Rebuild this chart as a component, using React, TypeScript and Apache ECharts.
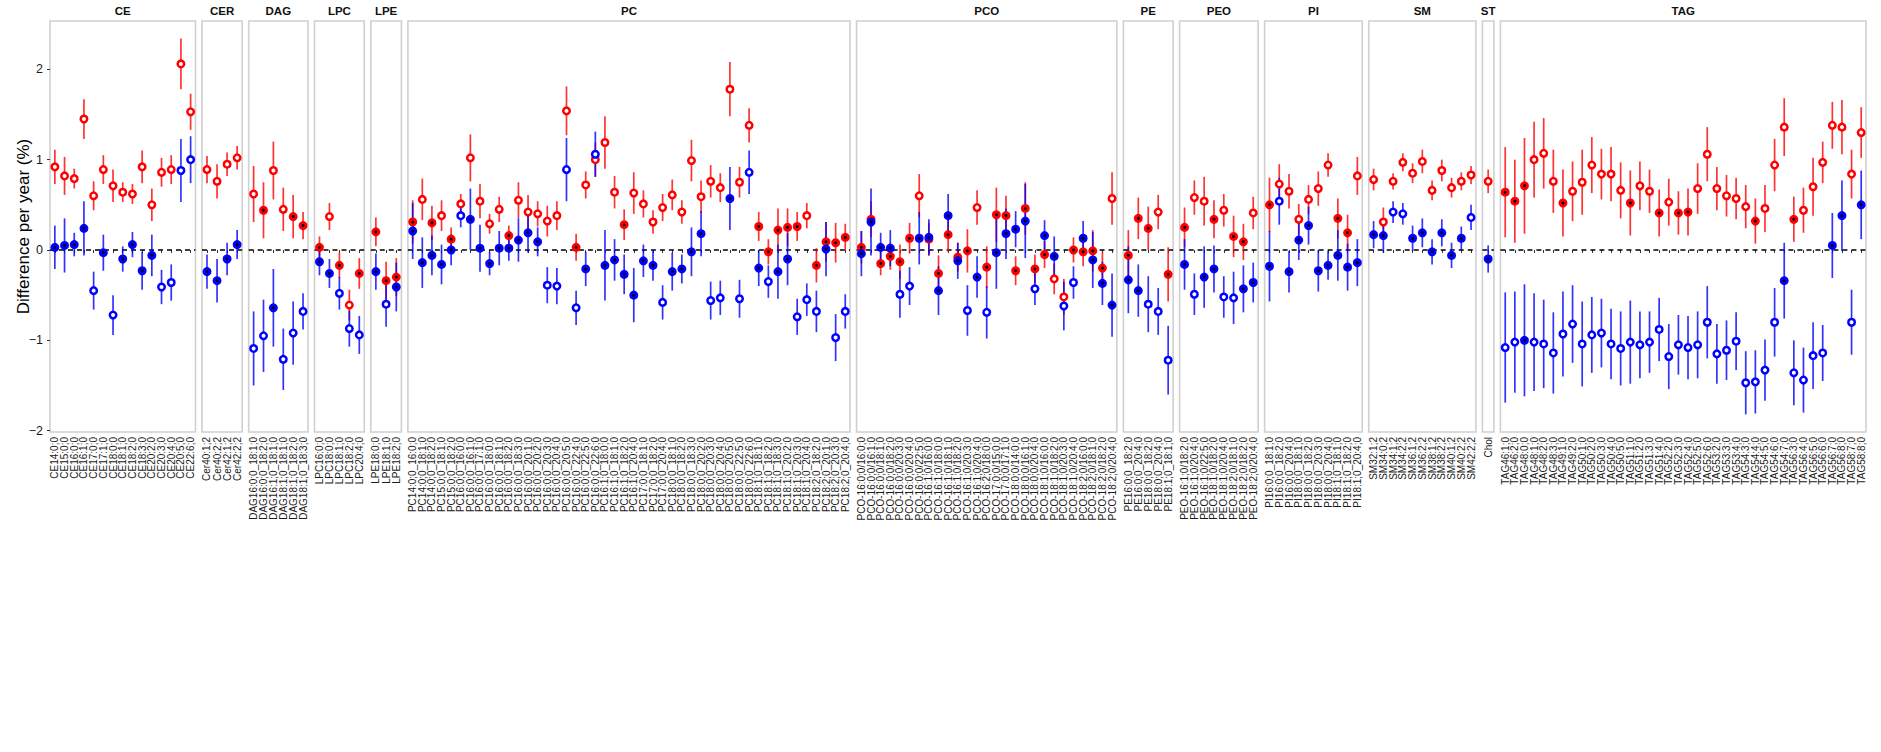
import React, { useEffect, useRef } from "react";
import * as echarts from "echarts";

// ---------- DATA ----------
const facetNames = ["CE", "CER", "DAG", "LPC", "LPE", "PC", "PCO", "PE", "PEO", "PI", "SM", "ST", "TAG"];

const ceLabels = ["CE14:0;0", "CE15:0;0", "CE16:0;0", "CE16:1;0", "CE17:0;0", "CE17:1;0", "CE18:0;0", "CE18:1;0", "CE18:2;0", "CE18:3;0", "CE20:2;0", "CE20:3;0", "CE20:4;0", "CE20:5;0", "CE22:6;0"];
const cerLabels = ["Cer40:1;2", "Cer40:2;2", "Cer42:1;2", "Cer42:2;2"];
const dagLabels = ["DAG16:0;0_18:1;0", "DAG16:0;0_18:2;0", "DAG16:1;0_18:1;0", "DAG18:1;0_18:1;0", "DAG18:1;0_18:2;0", "DAG18:1;0_18:3;0"];
const lpcLabels = ["LPC16:0;0", "LPC18:0;0", "LPC18:1;0", "LPC18:2;0", "LPC20:4;0"];
const lpeLabels = ["LPE18:0;0", "LPE18:1;0", "LPE18:2;0"];
const pcLabels = [
  "PC14:0;0_16:0;0", "PC14:0;0_18:1;0", "PC14:0;0_18:2;0", "PC15:0;0_18:1;0", "PC15:0;0_18:2;0",
  "PC16:0;0_16:0;0", "PC16:0;0_16:1;0", "PC16:0;0_17:1;0", "PC16:0;0_18:0;0", "PC16:0;0_18:1;0",
  "PC16:0;0_18:2;0", "PC16:0;0_18:3;0", "PC16:0;0_20:1;0", "PC16:0;0_20:2;0", "PC16:0;0_20:3;0",
  "PC16:0;0_20:4;0", "PC16:0;0_20:5;0", "PC16:0;0_22:4;0", "PC16:0;0_22:5;0", "PC16:0;0_22:6;0",
  "PC16:1;0_18:0;0", "PC16:1;0_18:1;0", "PC16:1;0_18:2;0", "PC16:1;0_20:4;0", "PC17:0;0_18:1;0",
  "PC17:0;0_18:2;0", "PC17:0;0_20:4;0", "PC18:0;0_18:1;0", "PC18:0;0_18:2;0", "PC18:0;0_18:3;0",
  "PC18:0;0_20:2;0", "PC18:0;0_20:3;0", "PC18:0;0_20:4;0", "PC18:0;0_20:5;0", "PC18:0;0_22:5;0",
  "PC18:0;0_22:6;0", "PC18:1;0_18:1;0", "PC18:1;0_18:2;0", "PC18:1;0_18:3;0", "PC18:1;0_20:2;0",
  "PC18:1;0_20:3;0", "PC18:1;0_20:4;0", "PC18:2;0_18:2;0", "PC18:2;0_20:1;0", "PC18:2;0_20:3;0",
  "PC18:2;0_20:4;0",
];
const pcoLabels = [
  "PCO-16:0;0/16:0;0", "PCO-16:0;0/16:1;0", "PCO-16:0;0/18:1;0", "PCO-16:0;0/18:2;0", "PCO-16:0;0/20:3;0",
  "PCO-16:0;0/20:4;0", "PCO-16:0;0/22:5;0", "PCO-16:1;0/16:0;0", "PCO-16:1;0/18:0;0", "PCO-16:1;0/18:1;0",
  "PCO-16:1;0/18:2;0", "PCO-16:1;0/20:3;0", "PCO-16:1;0/20:4;0", "PCO-16:2;0/18:0;0", "PCO-17:0;0/15:0;0",
  "PCO-17:0;0/17:1;0", "PCO-18:0;0/14:0;0", "PCO-18:0;0/16:1;0", "PCO-18:0;0/20:4;0", "PCO-18:1;0/16:0;0",
  "PCO-18:1;0/18:2;0", "PCO-18:1;0/20:3;0", "PCO-18:1;0/20:4;0", "PCO-18:2;0/16:0;0", "PCO-18:2;0/18:1;0",
  "PCO-18:2;0/18:2;0", "PCO-18:2;0/20:4;0",
];
const peLabels = ["PE16:0;0_18:2;0", "PE16:0;0_20:4;0", "PE18:0;0_18:2;0", "PE18:0;0_20:4;0", "PE18:1;0_18:1;0"];
const peoLabels = ["PEO-16:1;0/18:2;0", "PEO-16:1;0/20:4;0", "PEO-16:1;0/22:5;0", "PEO-18:1;0/18:2;0", "PEO-18:1;0/20:4;0", "PEO-18:2;0/18:1;0", "PEO-18:2;0/18:2;0", "PEO-18:2;0/20:4;0"];
const piLabels = ["PI16:0;0_18:1;0", "PI16:0;0_18:2;0", "PI16:0;0_20:4;0", "PI18:0;0_18:1;0", "PI18:0;0_18:2;0", "PI18:0;0_20:3;0", "PI18:0;0_20:4;0", "PI18:1;0_18:1;0", "PI18:1;0_18:2;0", "PI18:1;0_20:4;0"];
const smLabels = ["SM32:1;2", "SM34:0;2", "SM34:1;2", "SM34:2;2", "SM36:1;2", "SM36:2;2", "SM38:1;2", "SM38:2;2", "SM40:1;2", "SM40:2;2", "SM42:2;2"];
const stLabels = ["Chol"];
const tagLabels = [
  "TAG46:1;0", "TAG46:2;0", "TAG48:0;0", "TAG48:1;0", "TAG48:2;0", "TAG48:3;0", "TAG49:1;0", "TAG49:2;0",
  "TAG50:1;0", "TAG50:2;0", "TAG50:3;0", "TAG50:4;0", "TAG50:5;0", "TAG51:1;0", "TAG51:2;0", "TAG51:3;0",
  "TAG51:4;0", "TAG52:2;0", "TAG52:3;0", "TAG52:4;0", "TAG52:5;0", "TAG52:6;0", "TAG53:2;0", "TAG53:3;0",
  "TAG53:4;0", "TAG54:3;0", "TAG54:4;0", "TAG54:5;0", "TAG54:6;0", "TAG54:7;0", "TAG56:3;0", "TAG56:4;0",
  "TAG56:5;0", "TAG56:6;0", "TAG56:7;0", "TAG56:8;0", "TAG58:7;0", "TAG58:8;0",
];
const facetLabels = [ceLabels, cerLabels, dagLabels, lpcLabels, lpeLabels, pcLabels, pcoLabels, peLabels, peoLabels, piLabels, smLabels, stLabels, tagLabels];

// Red group: estimate, half-width of interval, filled (1) / open (0)
const redEstimate = [
  // CE
  0.92, 0.82, 0.79, 1.45, 0.60, 0.89, 0.71, 0.64, 0.62, 0.92, 0.50, 0.86, 0.89, 2.06, 1.53,
  // CER
  0.89, 0.76, 0.95, 1.02,
  // DAG
  0.62, 0.44, 0.88, 0.45, 0.37, 0.27,
  // LPC
  0.03, 0.37, -0.17, -0.61, -0.26,
  // LPE
  0.20, -0.34, -0.30,
  // PC
  0.31, 0.56, 0.30, 0.38, 0.12, 0.51, 1.02, 0.54, 0.29, 0.45, 0.16, 0.55, 0.42, 0.40, 0.32, 0.38, 1.54, 0.03, 0.72, 1.00,
  1.19, 0.64, 0.28, 0.63, 0.51, 0.31, 0.47, 0.61, 0.42, 0.99, 0.59, 0.76, 0.69, 1.78, 0.75, 1.38, 0.26, -0.02, 0.22, 0.25,
  0.26, 0.38, -0.17, 0.09, 0.08, 0.14,
  // PCO
  0.03, 0.34, -0.15, -0.07, -0.13, 0.13, 0.60, 0.12, -0.26, 0.17, -0.08, -0.01, 0.47, -0.19, 0.39, 0.38, -0.23, 0.46, -0.21, -0.05,
  -0.32, -0.52, 0.00, -0.02, -0.01, -0.20, 0.57,
  // PE
  -0.06, 0.35, 0.24, 0.42, -0.27,
  // PEO
  0.25, 0.58, 0.54, 0.34, 0.44, 0.15, 0.09, 0.41,
  // PI
  0.50, 0.73, 0.65, 0.34, 0.56, 0.68, 0.94, 0.35, 0.19, 0.82,
  // SM
  0.78, 0.31, 0.76, 0.97, 0.85, 0.98, 0.66, 0.88, 0.69, 0.76, 0.83,
  // ST
  0.76,
  // TAG
  0.64, 0.54, 0.71, 1.00, 1.07, 0.76, 0.52, 0.65, 0.75, 0.94, 0.84, 0.84, 0.66, 0.52, 0.71, 0.65, 0.41, 0.53, 0.41, 0.42,
  0.68, 1.06, 0.68, 0.60, 0.57, 0.48, 0.32, 0.46, 0.94, 1.36, 0.34, 0.44, 0.70, 0.97, 1.38, 1.36, 0.84, 1.30,
];
const redHalfCI = [
  0.19, 0.21, 0.11, 0.22, 0.16, 0.16, 0.18, 0.11, 0.11, 0.18, 0.18, 0.16, 0.16, 0.28, 0.20,
  0.15, 0.19, 0.13, 0.13,
  0.31, 0.31, 0.32, 0.24, 0.24, 0.15,
  0.12, 0.15, 0.14, 0.17, 0.17,
  0.16, 0.21, 0.21,
  0.24, 0.23, 0.19, 0.17, 0.13, 0.11, 0.26, 0.19, 0.11, 0.14, 0.11, 0.20, 0.19, 0.14, 0.17, 0.16, 0.27, 0.15, 0.15, 0.19,
  0.29, 0.18, 0.17, 0.23, 0.15, 0.13, 0.15, 0.17, 0.13, 0.23, 0.18, 0.18, 0.16, 0.30, 0.17, 0.19, 0.16, 0.14, 0.24, 0.21,
  0.16, 0.14, 0.19, 0.22, 0.22, 0.15,
  0.18, 0.20, 0.13, 0.15, 0.19, 0.17, 0.24, 0.18, 0.20, 0.19, 0.16, 0.24, 0.19, 0.23, 0.30, 0.22, 0.16, 0.29, 0.16, 0.15,
  0.17, 0.20, 0.14, 0.16, 0.23, 0.18, 0.29,
  0.28, 0.23, 0.24, 0.19, 0.30,
  0.22, 0.19, 0.27, 0.21, 0.18, 0.23, 0.20, 0.18,
  0.30, 0.22, 0.19, 0.17, 0.16, 0.19, 0.13, 0.22, 0.20, 0.21,
  0.12, 0.16, 0.09, 0.10, 0.11, 0.13, 0.11, 0.12, 0.11, 0.10, 0.10,
  0.13,
  0.50, 0.46, 0.53, 0.42, 0.39, 0.35, 0.37, 0.33, 0.36, 0.31, 0.28, 0.30, 0.31, 0.36, 0.27, 0.24, 0.26, 0.26, 0.24, 0.26,
  0.28, 0.30, 0.24, 0.23, 0.23, 0.24, 0.25, 0.26, 0.29, 0.32, 0.25, 0.25, 0.32, 0.23, 0.26, 0.30, 0.27, 0.28,
];
const redFilled = [
  0, 0, 0, 0, 0, 0, 0, 0, 0, 0, 0, 0, 0, 0, 0,
  0, 0, 0, 0,
  0, 1, 0, 0, 1, 1,
  1, 0, 1, 0, 1,
  1, 1, 1,
  1, 0, 1, 0, 1, 0, 0, 0, 0, 0, 1, 0, 0, 0, 0, 0, 0, 1, 0, 0,
  0, 0, 1, 0, 0, 0, 0, 0, 0, 0, 0, 0, 0, 0, 0, 0, 1, 1, 1, 1,
  1, 0, 1, 1, 1, 1,
  1, 1, 1, 1, 1, 1, 0, 1, 1, 1, 1, 1, 0, 1, 1, 1, 1, 1, 1, 1,
  0, 0, 1, 1, 1, 1, 0,
  1, 1, 1, 0, 1,
  1, 0, 0, 1, 0, 1, 1, 0,
  1, 0, 0, 0, 0, 0, 0, 1, 1, 0,
  0, 0, 0, 0, 0, 0, 0, 0, 0, 0, 0,
  0,
  1, 1, 1, 0, 0, 0, 1, 0, 0, 0, 0, 0, 0, 1, 0, 0, 1, 0, 1, 1,
  0, 0, 0, 0, 0, 0, 1, 0, 0, 0, 1, 0, 0, 0, 0, 0, 0, 0,
];

// Blue group
const blueEstimate = [
  0.03, 0.05, 0.06, 0.24, -0.45, -0.03, -0.72, -0.10, 0.06, -0.23, -0.06, -0.41, -0.36, 0.88, 1.00,
  -0.24, -0.34, -0.10, 0.06,
  -1.09, -0.95, -0.64, -1.21, -0.92, -0.68,
  -0.13, -0.26, -0.48, -0.87, -0.94,
  -0.24, -0.60, -0.41,
  0.21, -0.14, -0.06, -0.16, 0.00, 0.38, 0.34, 0.02, -0.15, 0.02, 0.02, 0.11, 0.19, 0.09, -0.39, -0.40, 0.89, -0.64, -0.21, 1.06,
  -0.17, -0.11, -0.27, -0.50, -0.12, -0.17, -0.58, -0.24, -0.21, -0.02, 0.18, -0.56, -0.53, 0.57, -0.54, 0.86, -0.20, -0.35, -0.24, -0.10,
  -0.74, -0.55, -0.68, 0.01, -0.97, -0.68,
  -0.04, 0.31, 0.03, 0.02, -0.49, -0.40, 0.13, 0.14, -0.45, 0.38, -0.12, -0.67, -0.30, -0.69, -0.03, 0.18, 0.23, 0.32, -0.43, 0.16,
  -0.07, -0.62, -0.36, 0.13, -0.11, -0.37, -0.61,
  -0.33, -0.45, -0.60, -0.68, -1.22,
  -0.16, -0.49, -0.30, -0.21, -0.52, -0.53, -0.43, -0.36,
  -0.18, 0.54, -0.24, 0.11, 0.27, -0.23, -0.17, -0.06, -0.19, -0.14,
  0.17, 0.16, 0.42, 0.40, 0.13, 0.19, -0.02, 0.19, -0.06, 0.13, 0.36,
  -0.10,
  -1.08, -1.02, -1.00, -1.02, -1.04, -1.14, -0.93, -0.82, -1.04, -0.94, -0.92, -1.04, -1.09, -1.02, -1.05, -1.02, -0.88, -1.18, -1.05, -1.08,
  -1.05, -0.80, -1.15, -1.11, -1.01, -1.47, -1.46, -1.33, -0.80, -0.34, -1.36, -1.44, -1.17, -1.14, 0.05, 0.38, -0.80, 0.50,
];
const blueHalfCI = [
  0.24, 0.30, 0.13, 0.30, 0.21, 0.20, 0.22, 0.14, 0.14, 0.21, 0.23, 0.19, 0.20, 0.35, 0.26,
  0.19, 0.24, 0.18, 0.16,
  0.41, 0.40, 0.43, 0.34, 0.35, 0.20,
  0.15, 0.16, 0.18, 0.20, 0.21,
  0.20, 0.25, 0.27,
  0.31, 0.28, 0.22, 0.22, 0.17, 0.13, 0.34, 0.26, 0.13, 0.19, 0.14, 0.24, 0.22, 0.16, 0.20, 0.20, 0.35, 0.19, 0.19, 0.25,
  0.39, 0.23, 0.22, 0.30, 0.18, 0.17, 0.19, 0.21, 0.16, 0.27, 0.25, 0.21, 0.19, 0.35, 0.21, 0.24, 0.20, 0.18, 0.30, 0.29,
  0.20, 0.18, 0.23, 0.30, 0.26, 0.19,
  0.25, 0.37, 0.16, 0.20, 0.26, 0.21, 0.29, 0.20, 0.27, 0.24, 0.20, 0.28, 0.23, 0.29, 0.40, 0.28, 0.20, 0.41, 0.18, 0.17,
  0.22, 0.27, 0.18, 0.19, 0.31, 0.24, 0.35,
  0.37, 0.29, 0.31, 0.26, 0.38,
  0.28, 0.23, 0.34, 0.26, 0.23, 0.29, 0.26, 0.22,
  0.39, 0.26, 0.23, 0.22, 0.21, 0.23, 0.16, 0.28, 0.26, 0.26,
  0.15, 0.19, 0.12, 0.12, 0.14, 0.16, 0.14, 0.15, 0.14, 0.13, 0.14,
  0.15,
  0.61, 0.56, 0.62, 0.54, 0.49, 0.45, 0.47, 0.43, 0.47, 0.42, 0.38, 0.39, 0.41, 0.46, 0.37, 0.34, 0.35, 0.36, 0.33, 0.35,
  0.37, 0.40, 0.33, 0.33, 0.32, 0.35, 0.35, 0.34, 0.38, 0.42, 0.36, 0.36, 0.37, 0.31, 0.36, 0.39, 0.36, 0.38,
];
const blueFilled = [
  1, 1, 1, 1, 0, 1, 0, 1, 1, 1, 1, 0, 0, 0, 0,
  1, 1, 1, 1,
  0, 0, 1, 0, 0, 0,
  1, 1, 0, 0, 0,
  1, 0, 1,
  1, 1, 1, 1, 1, 0, 1, 1, 1, 1, 1, 1, 1, 1, 0, 0, 0, 0, 1, 0,
  1, 1, 1, 1, 1, 1, 0, 1, 1, 1, 1, 0, 0, 1, 0, 0, 1, 0, 1, 1,
  0, 0, 0, 1, 0, 0,
  1, 1, 1, 1, 0, 0, 1, 1, 1, 1, 1, 0, 1, 0, 1, 1, 1, 1, 0, 1,
  1, 0, 0, 1, 1, 1, 1,
  1, 1, 0, 0, 0,
  1, 0, 1, 1, 0, 0, 1, 1,
  1, 0, 1, 1, 1, 1, 1, 1, 1, 1,
  1, 1, 0, 0, 1, 1, 1, 1, 1, 1, 0,
  1,
  0, 0, 1, 0, 0, 0, 0, 0, 0, 0, 0, 0, 0, 0, 0, 0, 0, 0, 0, 0,
  0, 0, 0, 0, 0, 0, 0, 0, 0, 1, 0, 0, 0, 0, 1, 1, 0, 1,
];

const yTickValues = [-2, -1, 0, 1, 2];
const yAxisTitle = "Difference per year (%)";

// ---------- LAYOUT / STYLE ----------
const FONT = "'Liberation Sans', Arial, Helvetica, sans-serif";
const RED = "#ff0000";
const BLUE = "#0000ff";
const PLOT_LEFT = 50;
const PLOT_RIGHT = 1866;
const PANEL_GAP = 6.5;
const PANEL_TOP = 21;
const PANEL_BOTTOM = 432;
const Y_MIN = -2.015;
const Y_MAX = 2.535;
const X_PAD_UNITS = 0.2; // extra width per panel (in category steps) beyond n

function buildOption() {
  const grids: any[] = [];
  const xAxes: any[] = [];
  const yAxes: any[] = [];
  const series: any[] = [];
  const graphics: any[] = [];

  const totalUnits = facetLabels.reduce((s, l) => s + l.length + X_PAD_UNITS, 0);
  const unit = (PLOT_RIGHT - PLOT_LEFT - PANEL_GAP * (facetLabels.length - 1)) / totalUnits;

  let x = PLOT_LEFT;
  let offset = 0;
  facetLabels.forEach((labels, i) => {
    const n = labels.length;
    const w = (n + X_PAD_UNITS) * unit;

    grids.push({
      left: x,
      top: PANEL_TOP,
      width: w,
      height: PANEL_BOTTOM - PANEL_TOP,
      show: true,
      borderColor: "#d0d0d0",
      borderWidth: 1.6,
      backgroundColor: "transparent",
      containLabel: false,
      outerBoundsMode: "none",
    });

    xAxes.push({
      gridIndex: i,
      type: "category",
      data: labels,
      boundaryGap: true,
      axisLine: { show: false },
      splitLine: { show: false },
      axisTick: { show: true, alignWithLabel: true, interval: 0, length: 3, lineStyle: { color: "#333", width: 1 } },
      axisLabel: {
        show: true,
        interval: 0,
        rotate: 90,
        margin: 5,
        fontSize: 10,
        color: "#1a1a1a",
        fontFamily: FONT,
      },
    });

    yAxes.push({
      gridIndex: i,
      type: "value",
      min: Y_MIN,
      max: Y_MAX,
      axisLine: { show: false },
      splitLine: { show: false },
      axisTick: { show: i === 0, customValues: yTickValues, length: 3, lineStyle: { color: "#333", width: 1 } },
      axisLabel: {
        show: i === 0,
        customValues: yTickValues,
        showMinLabel: true,
        showMaxLabel: true,
        margin: 7,
        fontSize: 12.5,
        color: "#1a1a1a",
        fontFamily: FONT,
        formatter: (v: number) => (v < 0 ? "\u2212" + Math.abs(v) : String(v)),
      },
    });

    graphics.push({
      type: "text",
      x: x + w / 2,
      y: 11,
      silent: true,
      style: {
        text: facetNames[i],
        align: "center",
        verticalAlign: "middle",
        fontSize: 11.5,
        fontWeight: "bold",
        fontFamily: FONT,
        fill: "#111",
      },
    });

    // zero reference line, spanning the whole panel
    series.push({
      type: "custom",
      xAxisIndex: i,
      yAxisIndex: i,
      data: [[0, 0]],
      silent: true,
      z: 1,
      renderItem: (params: any, api: any) => {
        const cs = params.coordSys;
        const p = api.coord([api.value(0), api.value(1)]);
        return {
          type: "line",
          shape: { x1: cs.x, y1: p[1], x2: cs.x + cs.width, y2: p[1] },
          style: { stroke: "#000", lineWidth: 1.5, lineDash: [5, 4] },
        };
      },
    });

    const mk = (est: number[], ci: number[], filled: number[]) => {
      const bars: any[] = [];
      const open: any[] = [];
      const solid: any[] = [];
      for (let j = 0; j < n; j++) {
        const k = offset + j;
        bars.push([j, est[k] - ci[k], est[k] + ci[k]]);
        if (filled[k]) solid.push([j, est[k]]);
        else open.push([j, est[k]]);
      }
      return { bars, open, solid };
    };
    const red = mk(redEstimate, redHalfCI, redFilled);
    const blue = mk(blueEstimate, blueHalfCI, blueFilled);

    const barSeries = (data: any[], color: string) => ({
      type: "custom",
      xAxisIndex: i,
      yAxisIndex: i,
      data,
      silent: true,
      clip: false,
      z: 2,
      encode: { x: 0, y: [1, 2] },
      renderItem: (_p: any, api: any) => {
        const a = api.coord([api.value(0), api.value(1)]);
        const b = api.coord([api.value(0), api.value(2)]);
        return {
          type: "line",
          shape: { x1: a[0], y1: a[1], x2: b[0], y2: b[1] },
          style: { stroke: color, lineWidth: 1.7, opacity: 0.8 },
        };
      },
    });
    series.push(barSeries(red.bars, RED));
    series.push(barSeries(blue.bars, BLUE));

    const pts = (data: any[], color: string, solid: boolean) => ({
      type: "scatter",
      xAxisIndex: i,
      yAxisIndex: i,
      data,
      symbol: "circle",
      symbolSize: 6.5,
      silent: true,
      z: 3,
      itemStyle: { color: solid ? color : "#ffffff", borderColor: color, borderWidth: 2.5, opacity: 1 },
    });
    const dots = (data: any[]) => ({
      type: "scatter",
      xAxisIndex: i,
      yAxisIndex: i,
      data,
      symbol: "circle",
      symbolSize: 3,
      silent: true,
      z: 3,
      itemStyle: { color: "#000", opacity: 1 },
    });
    series.push(pts(red.open, RED, false));
    series.push(pts(red.solid, RED, true));
    series.push(dots(red.solid));
    series.push(pts(blue.open, BLUE, false));
    series.push(pts(blue.solid, BLUE, true));
    series.push(dots(blue.solid));

    x += w + PANEL_GAP;
    offset += n;
  });

  // y-axis title
  graphics.push({
    type: "text",
    x: 23.5,
    y: (PANEL_TOP + PANEL_BOTTOM) / 2,
    rotation: Math.PI / 2,
    silent: true,
    style: {
      text: yAxisTitle,
      align: "center",
      verticalAlign: "middle",
      fontSize: 17,
      fontFamily: FONT,
      fill: "#000",
    },
  });

  return {
    animation: false,
    backgroundColor: "#ffffff",
    textStyle: { fontFamily: FONT },
    grid: grids,
    xAxis: xAxes,
    yAxis: yAxes,
    series,
    graphic: graphics,
  };
}

export default function App() {
  const ref = useRef<HTMLDivElement>(null);
  useEffect(() => {
    if (!ref.current) return;
    const chart = echarts.init(ref.current, null, { renderer: "svg" });
    chart.setOption(buildOption() as any);
    return () => chart.dispose();
  }, []);
  return (
    <div
      ref={ref}
      style={{ position: "fixed", left: 0, top: 0, width: 1881, height: 752, background: "#fff" }}
    />
  );
}
